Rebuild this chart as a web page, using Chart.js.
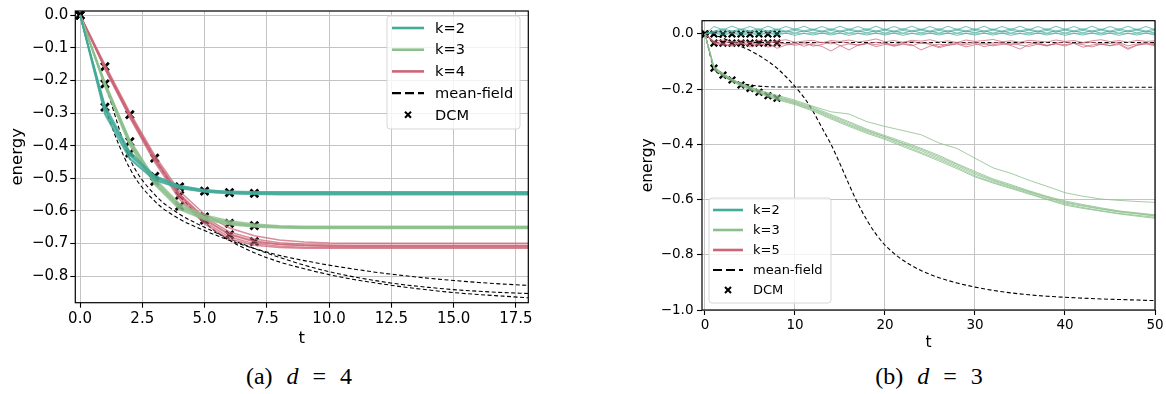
<!DOCTYPE html>
<html>
<head>
<meta charset="utf-8">
<script src="https://cdn.jsdelivr.net/npm/chart.js@4/dist/chart.umd.min.js"></script>
<style>
  html, body { margin: 0; padding: 0; background: #fff; }
  #page { position: relative; width: 1166px; height: 394px; overflow: hidden; }
  canvas { position: absolute; top: 0; }
  #chartA { left: 0; }
  #chartB { left: 620px; }
  .cap { position: absolute; top: 363px; width: 300px; text-align: center;
         font-family: 'Liberation Serif', serif; font-size: 24px; color: #000; word-spacing: 8px; }
  .cap i { font-style: italic; }
</style>
</head>
<body>
<div id="page">
  <canvas id="chartA" width="545" height="350"></canvas>
  <canvas id="chartB" width="546" height="360"></canvas>
  <div class="cap" style="left:149px">(a) <i>d</i> = 4</div>
  <div class="cap" style="left:779px">(b) <i>d</i> = 3</div>
</div>
<script>
// ---------- panel (a): d = 4 ----------
const tA = [0,1,2,3,4,5,6,7,8,9,10,11,12,13,14,15,16,17,18];
const xTicksA = [0, 2.5, 5, 7.5, 10, 12.5, 15, 17.5];
const yTicksA = [0, -0.1, -0.2, -0.3, -0.4, -0.5, -0.6, -0.7, -0.8];

// ensemble runs, one array per run
const k2RunsA = [
  [0,-0.282,-0.423,-0.494,-0.524,-0.536,-0.541,-0.543,-0.543,-0.543,-0.543,-0.543,-0.543,-0.543,-0.543,-0.543,-0.543,-0.543,-0.543],
  [0,-0.290,-0.430,-0.500,-0.527,-0.539,-0.544,-0.546,-0.546,-0.546,-0.546,-0.546,-0.546,-0.546,-0.546,-0.546,-0.546,-0.546,-0.546],
  [0,-0.298,-0.438,-0.504,-0.529,-0.541,-0.546,-0.548,-0.549,-0.549,-0.549,-0.549,-0.549,-0.549,-0.549,-0.549,-0.549,-0.549,-0.549],
  [0,-0.276,-0.418,-0.492,-0.522,-0.535,-0.540,-0.541,-0.541,-0.541,-0.541,-0.541,-0.541,-0.541,-0.541,-0.541,-0.541,-0.541,-0.541],
  [0,-0.305,-0.442,-0.506,-0.531,-0.542,-0.547,-0.549,-0.550,-0.550,-0.550,-0.550,-0.550,-0.550,-0.550,-0.550,-0.550,-0.550,-0.550],
  [0,-0.287,-0.427,-0.497,-0.526,-0.538,-0.543,-0.545,-0.545,-0.545,-0.545,-0.545,-0.545,-0.545,-0.545,-0.545,-0.545,-0.545,-0.545]
];
const k3RunsA = [
  [0,-0.205,-0.382,-0.500,-0.578,-0.612,-0.630,-0.640,-0.645,-0.647,-0.647,-0.647,-0.647,-0.647,-0.647,-0.647,-0.647,-0.647,-0.647],
  [0,-0.211,-0.388,-0.509,-0.585,-0.618,-0.636,-0.644,-0.648,-0.650,-0.650,-0.650,-0.650,-0.650,-0.650,-0.650,-0.650,-0.650,-0.650],
  [0,-0.216,-0.395,-0.516,-0.592,-0.624,-0.640,-0.647,-0.650,-0.652,-0.652,-0.652,-0.652,-0.652,-0.652,-0.652,-0.652,-0.652,-0.652],
  [0,-0.208,-0.385,-0.505,-0.582,-0.616,-0.634,-0.643,-0.647,-0.649,-0.649,-0.649,-0.649,-0.649,-0.649,-0.649,-0.649,-0.649,-0.649],
  [0,-0.220,-0.400,-0.520,-0.596,-0.627,-0.642,-0.649,-0.652,-0.654,-0.654,-0.654,-0.654,-0.654,-0.654,-0.654,-0.654,-0.654,-0.654],
  [0,-0.213,-0.391,-0.512,-0.588,-0.621,-0.638,-0.646,-0.649,-0.651,-0.651,-0.651,-0.651,-0.651,-0.651,-0.651,-0.651,-0.651,-0.651]
];
const k4RunsA = [
  [0,-0.152,-0.298,-0.430,-0.540,-0.610,-0.652,-0.676,-0.689,-0.695,-0.698,-0.699,-0.699,-0.699,-0.699,-0.699,-0.699,-0.699,-0.699],
  [0,-0.156,-0.303,-0.436,-0.548,-0.620,-0.664,-0.686,-0.697,-0.702,-0.704,-0.705,-0.705,-0.705,-0.705,-0.705,-0.705,-0.705,-0.705],
  [0,-0.160,-0.307,-0.441,-0.553,-0.628,-0.673,-0.694,-0.703,-0.706,-0.707,-0.707,-0.707,-0.707,-0.707,-0.707,-0.707,-0.707,-0.707],
  [0,-0.163,-0.311,-0.446,-0.559,-0.634,-0.680,-0.700,-0.708,-0.711,-0.712,-0.712,-0.712,-0.712,-0.712,-0.712,-0.712,-0.712,-0.712],
  [0,-0.166,-0.315,-0.451,-0.565,-0.640,-0.686,-0.705,-0.712,-0.714,-0.714,-0.714,-0.714,-0.714,-0.714,-0.714,-0.714,-0.714,-0.714],
  [0,-0.158,-0.305,-0.439,-0.551,-0.625,-0.670,-0.692,-0.702,-0.706,-0.708,-0.709,-0.709,-0.709,-0.709,-0.709,-0.709,-0.709,-0.709]
];
// mean-field curves
const mfK2A = [0,-0.280,-0.470,-0.570,-0.625,-0.660,-0.690,-0.715,-0.736,-0.752,-0.766,-0.778,-0.789,-0.798,-0.806,-0.813,-0.819,-0.824,-0.828];
const mfK3A = [0,-0.210,-0.440,-0.550,-0.610,-0.650,-0.685,-0.715,-0.742,-0.766,-0.786,-0.802,-0.815,-0.826,-0.834,-0.841,-0.846,-0.850,-0.853];
const mfK4A = [0,-0.158,-0.305,-0.440,-0.550,-0.635,-0.690,-0.728,-0.756,-0.777,-0.795,-0.810,-0.822,-0.833,-0.842,-0.850,-0.856,-0.861,-0.866];
// DCM points
const dcmTA = [0,1,2,3,4,5,6,7];
const dcmK2A = [0,-0.282,-0.423,-0.494,-0.526,-0.539,-0.544,-0.546];
const dcmK3A = [0,-0.211,-0.388,-0.509,-0.585,-0.618,-0.638,-0.645];
const dcmK4A = [0,-0.158,-0.305,-0.438,-0.552,-0.628,-0.673,-0.694];

// ---------- panel (b): d = 3 ----------
const tB = [0,1,2,3,4,5,6,7,8,9,10,11,12,13,14,15,16,17,18,19,20,21,22,23,24,25,26,27,28,29,30,
            31,32,33,34,35,36,37,38,39,40,41,42,43,44,45,46,47,48,49,50];
const xTicksB = [0, 10, 20, 30, 40, 50];
const yTicksB = [0, -0.2, -0.4, -0.6, -0.8, -1.0];

const k2RunsB = [
  [0,
   0.027,0.015,0.028,0.016,0.027,0.015,0.028,0.015,0.027,0.016,
   0.028,0.015,0.027,0.015,0.028,0.016,0.027,0.015,0.028,0.015,
   0.027,0.016,0.028,0.015,0.027,0.015,0.028,0.016,0.027,0.015,
   0.028,0.015,0.027,0.016,0.028,0.015,0.027,0.015,0.028,0.016,
   0.027,0.015,0.028,0.015,0.027,0.016,0.028,0.015,0.027,0.015],
  [0,
   0.010,0.019,0.010,0.018,0.011,0.019,0.010,0.018,0.010,0.019,
   0.011,0.018,0.010,0.019,0.010,0.018,0.011,0.019,0.010,0.018,
   0.010,0.019,0.011,0.018,0.010,0.019,0.010,0.018,0.011,0.019,
   0.010,0.018,0.010,0.019,0.011,0.018,0.010,0.019,0.010,0.018,
   0.011,0.019,0.010,0.018,0.010,0.019,0.011,0.018,0.010,0.019],
  [0,
   0.010,0.003,0.011,0.003,0.010,0.004,0.011,0.003,0.010,0.003,
   0.011,0.004,0.010,0.003,0.011,0.003,0.010,0.004,0.011,0.003,
   0.010,0.003,0.011,0.004,0.010,0.003,0.011,0.003,0.010,0.004,
   0.011,0.003,0.010,0.003,0.011,0.004,0.010,0.003,0.011,0.003,
   0.010,0.004,0.011,0.003,0.010,0.003,0.011,0.004,0.010,0.003],
  [0,
   0.006,0.013,0.006,0.014,0.007,0.013,0.006,0.014,0.006,0.013,
   0.007,0.014,0.006,0.013,0.006,0.014,0.007,0.013,0.006,0.014,
   0.006,0.013,0.007,0.014,0.006,0.013,0.006,0.014,0.007,0.013,
   0.006,0.014,0.006,0.013,0.007,0.014,0.006,0.013,0.006,0.014,
   0.007,0.013,0.006,0.014,0.006,0.013,0.007,0.014,0.006,0.013],
  [0,
   0.003,-0.004,0.003,-0.005,0.002,-0.004,0.003,-0.004,0.003,-0.005,
   0.002,-0.004,0.003,-0.004,0.003,-0.005,0.002,-0.004,0.003,-0.004,
   0.003,-0.005,0.002,-0.004,0.003,-0.004,0.003,-0.005,0.002,-0.004,
   0.003,-0.004,0.003,-0.005,0.002,-0.004,0.003,-0.004,0.003,-0.005,
   0.002,-0.004,0.003,-0.004,0.003,-0.005,0.002,-0.004,0.003,-0.004]
];
const k5RunsB = [
  [0,
   -0.030,-0.034,-0.028,-0.036,-0.031,-0.040,-0.033,-0.029,-0.037,-0.032,
   -0.045,-0.034,-0.030,-0.036,-0.028,-0.033,-0.041,-0.035,-0.030,-0.034,
   -0.038,-0.031,-0.027,-0.035,-0.033,-0.046,-0.036,-0.031,-0.034,-0.029,
   -0.037,-0.033,-0.030,-0.039,-0.034,-0.031,-0.036,-0.044,-0.032,-0.029,
   -0.035,-0.033,-0.030,-0.037,-0.034,-0.031,-0.043,-0.036,-0.032,-0.035],
  [0,
   -0.035,-0.041,-0.038,-0.030,-0.047,-0.039,-0.033,-0.052,-0.040,-0.036,
   -0.031,-0.044,-0.038,-0.029,-0.042,-0.058,-0.041,-0.034,-0.039,-0.032,
   -0.045,-0.037,-0.043,-0.031,-0.038,-0.050,-0.041,-0.035,-0.040,-0.033,
   -0.046,-0.039,-0.034,-0.042,-0.055,-0.038,-0.032,-0.041,-0.036,-0.044,
   -0.033,-0.039,-0.047,-0.037,-0.042,-0.034,-0.052,-0.040,-0.036,-0.043],
  [0,
   -0.027,-0.022,-0.029,-0.024,-0.031,-0.023,-0.028,-0.025,-0.021,-0.030,
   -0.026,-0.023,-0.032,-0.024,-0.027,-0.022,-0.029,-0.025,-0.018,-0.028,
   -0.024,-0.030,-0.023,-0.026,-0.021,-0.029,-0.025,-0.031,-0.022,-0.027,
   -0.024,-0.020,-0.028,-0.025,-0.030,-0.023,-0.026,-0.029,-0.022,-0.027,
   -0.024,-0.031,-0.025,-0.021,-0.028,-0.024,-0.030,-0.023,-0.027,-0.025],
  [0,
   -0.032,-0.037,-0.044,-0.035,-0.040,-0.033,-0.048,-0.038,-0.034,-0.041,
   -0.036,-0.039,-0.045,-0.062,-0.043,-0.036,-0.040,-0.034,-0.046,-0.038,
   -0.042,-0.035,-0.039,-0.058,-0.044,-0.037,-0.041,-0.036,-0.047,-0.039,
   -0.035,-0.043,-0.038,-0.033,-0.040,-0.045,-0.037,-0.042,-0.035,-0.039,
   -0.034,-0.048,-0.040,-0.036,-0.043,-0.038,-0.056,-0.041,-0.035,-0.039]
];
const tGreenB = [0,1,2,3,4,5,6,7,8,10,12,14,16,18,20,22,24,26,28,30,32,34,36,38,40,42,44,46,48,50];
const k3RunsB = [
  [0,-0.123,-0.148,-0.167,-0.184,-0.197,-0.210,-0.222,-0.232,-0.250,-0.272,-0.300,-0.327,-0.352,-0.373,-0.398,-0.423,-0.450,-0.478,-0.508,-0.532,-0.553,-0.573,-0.593,-0.612,-0.624,-0.635,-0.645,-0.652,-0.660],
  [0,-0.118,-0.143,-0.163,-0.180,-0.193,-0.205,-0.216,-0.226,-0.244,-0.265,-0.292,-0.318,-0.345,-0.368,-0.390,-0.414,-0.440,-0.470,-0.498,-0.525,-0.546,-0.568,-0.588,-0.605,-0.618,-0.630,-0.641,-0.648,-0.655],
  [0,-0.128,-0.153,-0.172,-0.189,-0.202,-0.215,-0.227,-0.238,-0.256,-0.279,-0.308,-0.335,-0.360,-0.382,-0.408,-0.433,-0.460,-0.488,-0.518,-0.540,-0.560,-0.580,-0.600,-0.620,-0.632,-0.642,-0.652,-0.660,-0.668],
  [0,-0.120,-0.145,-0.164,-0.180,-0.192,-0.203,-0.213,-0.222,-0.240,-0.262,-0.282,-0.290,-0.318,-0.335,-0.350,-0.365,-0.395,-0.415,-0.450,-0.485,-0.505,-0.530,-0.552,-0.575,-0.588,-0.598,-0.603,-0.607,-0.610],
  [0,-0.125,-0.150,-0.169,-0.186,-0.199,-0.212,-0.224,-0.235,-0.253,-0.276,-0.304,-0.331,-0.356,-0.378,-0.403,-0.429,-0.455,-0.483,-0.514,-0.537,-0.557,-0.577,-0.598,-0.616,-0.629,-0.640,-0.650,-0.657,-0.664],
  [0,-0.122,-0.146,-0.165,-0.182,-0.195,-0.207,-0.219,-0.229,-0.247,-0.270,-0.296,-0.322,-0.349,-0.372,-0.395,-0.418,-0.445,-0.473,-0.503,-0.529,-0.550,-0.571,-0.591,-0.609,-0.621,-0.633,-0.643,-0.650,-0.658]
];
// mean-field
const tMfK2B = [0,1,2,3,4,5,6,7,8,9,10,11,12,13,14,15,16,17,18,19,20,21,22,23,24,25,26,27,28,30,32,34,36,38,40,42,44,46,48,50];
const mfK2B = [0,-0.005,-0.015,-0.030,-0.045,-0.060,-0.078,-0.099,-0.124,-0.155,-0.190,-0.230,-0.280,-0.340,-0.400,-0.470,-0.545,-0.615,-0.675,-0.725,
               -0.765,-0.795,-0.820,-0.840,-0.857,-0.871,-0.883,-0.893,-0.902,-0.917,-0.929,-0.938,-0.945,-0.950,-0.954,-0.957,-0.960,-0.962,-0.964,-0.966];
const tMfK3B = [0,1,2,3,4,5,6,7,8,50];
const mfK3B = [0,-0.123,-0.150,-0.168,-0.179,-0.185,-0.189,-0.191,-0.192,-0.193];
const tMfK5B = [0,1,50];
const mfK5B = [0,-0.031,-0.031];
// DCM
const dcmTB = [0,1,2,3,4,5,6,7,8];
const dcmK2B = [0,0,0,0,0,0,0,0,0];
const dcmK3B = [0,-0.124,-0.149,-0.167,-0.185,-0.197,-0.211,-0.224,-0.233];
const dcmK5B = [0,-0.033,-0.033,-0.033,-0.033,-0.033,-0.033,-0.033,-0.033];

const TEAL = '#44AA99', GREEN = '#8CBF8C', ROSE = '#CC6677';

function pts(xs, ys) {
    return ys.map((y, i) => ({ x: xs[i], y: y }));
}
function runLines(xs, runs, color, width) {
    return runs.map(r => ({
        data: pts(xs, r), borderColor: color, borderWidth: width,
        pointRadius: 0, fill: false, tension: 0
    }));
}
function mfLine(xs, ys, width, smooth) {
    return {
        data: pts(xs, ys), borderColor: '#000', borderWidth: width, borderDash: [4, 2.5],
        pointRadius: 0, fill: false, cubicInterpolationMode: smooth ? 'monotone' : 'default', tension: 0
    };
}
function dcmMarks(xs, ys, r, w) {
    return {
        data: pts(xs, ys), showLine: false, pointStyle: 'crossRot', pointRadius: r,
        borderColor: '#000', backgroundColor: '#000', pointBorderWidth: w
    };
}
function fmt(v) {
    const s = Math.abs(v) < 1e-9 ? '0.0' : Math.abs(v).toFixed(1);
    return v < -1e-9 ? '\u2212' + s : s;
}

// frame + legend drawn on top of the datasets
const decor = {
    id: 'decor',
    afterDatasetsDraw(chart, args, opts) {
        const ctx = chart.ctx, a = chart.chartArea;
        ctx.save();
        ctx.strokeStyle = '#000';
        ctx.lineWidth = 1.2;
        ctx.strokeRect(a.left, a.top, a.right - a.left, a.bottom - a.top);
        const L = opts.legend;
        ctx.beginPath();
        ctx.roundRect(L.x, L.y, L.w, L.h, 3);
        ctx.fillStyle = 'rgba(255,255,255,0.8)';
        ctx.fill();
        ctx.strokeStyle = '#d6d6d6';
        ctx.lineWidth = 1;
        ctx.stroke();
        ctx.font = L.font + 'px "DejaVu Sans"';
        ctx.textBaseline = 'middle';
        ctx.fillStyle = '#000';
        L.items.forEach((it, i) => {
            const y = L.y + L.first + i * L.row;
            const x0 = L.x + L.sw0, x1 = L.x + L.sw1;
            if (it.kind === 'line' || it.kind === 'dash') {
                ctx.beginPath();
                ctx.setLineDash(it.kind === 'dash' ? [9, 4] : []);
                ctx.strokeStyle = it.color;
                ctx.lineWidth = it.kind === 'dash' ? 2.2 : 2.6;
                ctx.moveTo(x0, y);
                ctx.lineTo(x1, y);
                ctx.stroke();
                ctx.setLineDash([]);
            } else {
                const cx = (x0 + x1) / 2, s = 3;
                ctx.beginPath();
                ctx.strokeStyle = '#000';
                ctx.lineWidth = 2;
                ctx.moveTo(cx - s, y - s); ctx.lineTo(cx + s, y + s);
                ctx.moveTo(cx - s, y + s); ctx.lineTo(cx + s, y - s);
                ctx.stroke();
            }
            ctx.fillText(it.label, L.x + L.tx, y + 1);
        });
        ctx.restore();
    }
};

function axisCfg(o) {
    return {
        type: 'linear', min: o.min, max: o.max,
        afterBuildTicks: s => { s.ticks = o.ticks.map(v => ({ value: v })); },
        afterFit: s => { if (o.horiz) s.height = o.size; else s.width = o.size; },
        grid: { color: '#c4c4c4', lineWidth: 1, tickColor: '#000', tickLength: 5, tickWidth: 1.1 },
        border: { display: false },
        ticks: {
            color: '#000', padding: o.pad, maxRotation: 0, autoSkip: false,
            font: { family: 'DejaVu Sans', size: o.font },
            callback: o.cb
        },
        title: {
            display: true, text: o.title, color: '#000', padding: 0,
            font: { family: 'DejaVu Sans', size: o.titleFont }
        }
    };
}

const datasetsA = [].concat(
    runLines(tA, k2RunsA, 'rgba(68,170,153,0.8)', 1.5),
    runLines(tA, k3RunsA, 'rgba(140,191,140,0.8)', 1.5),
    runLines(tA, k4RunsA, 'rgba(204,102,119,0.75)', 1.5),
    [mfLine(tA, mfK2A, 1.1, true), mfLine(tA, mfK3A, 1.1, true), mfLine(tA, mfK4A, 1.1, true)],
    [dcmMarks(dcmTA, dcmK2A, 5.5, 2.8), dcmMarks(dcmTA, dcmK3A, 5.5, 2.8), dcmMarks(dcmTA, dcmK4A, 5.5, 2.8)]
);

new Chart(document.getElementById('chartA'), {
    type: 'line',
    data: { datasets: datasetsA },
    options: {
        responsive: false, animation: false, devicePixelRatio: 1, events: [],
        layout: { padding: { left: 7.4, right: 16.7, top: 8, bottom: 1.3 } },
        plugins: {
            legend: { display: false }, tooltip: { enabled: false },
            decor: { legend: {
                x: 387, y: 16, w: 133, h: 113, first: 12, row: 21.7, sw0: 5, sw1: 37, tx: 48, font: 14.6,
                items: [
                    { label: 'k=2', kind: 'line', color: TEAL },
                    { label: 'k=3', kind: 'line', color: GREEN },
                    { label: 'k=4', kind: 'line', color: ROSE },
                    { label: 'mean-field', kind: 'dash', color: '#000' },
                    { label: 'DCM', kind: 'cross' }
                ]
            } }
        },
        scales: {
            x: axisCfg({ horiz: true, size: 46, min: -0.19, max: 18, ticks: xTicksA, pad: 2, font: 15,
                         cb: v => v.toFixed(1), title: 't', titleFont: 16.5 }),
            y: axisCfg({ horiz: false, size: 67.9, min: -0.881, max: 0.0125, ticks: yTicksA, pad: 2, font: 15,
                         cb: v => fmt(v), title: 'energy', titleFont: 16.5 })
        }
    },
    plugins: [decor]
});

const datasetsB = [].concat(
    runLines(tB, k2RunsB, 'rgba(68,170,153,0.75)', 1),
    runLines(tGreenB, k3RunsB, 'rgba(140,191,140,0.8)', 1),
    runLines(tB, k5RunsB, 'rgba(204,102,119,0.75)', 1),
    [mfLine(tMfK2B, mfK2B, 1.1, true), mfLine(tMfK3B, mfK3B, 1.1, true), mfLine(tMfK5B, mfK5B, 1.1, false)],
    [dcmMarks(dcmTB, dcmK2B, 4.6, 2.3), dcmMarks(dcmTB, dcmK3B, 4.6, 2.3), dcmMarks(dcmTB, dcmK5B, 4.6, 2.3)]
);

new Chart(document.getElementById('chartB'), {
    type: 'line',
    data: { datasets: datasetsB },
    options: {
        responsive: false, animation: false, devicePixelRatio: 1, events: [],
        layout: { padding: { left: 18.4, right: 11, top: 20.7, bottom: 7.4 } },
        plugins: {
            legend: { display: false }, tooltip: { enabled: false },
            decor: { legend: {
                x: 89, y: 198, w: 122, h: 105, first: 12, row: 20, sw0: 4, sw1: 34, tx: 44, font: 13,
                items: [
                    { label: 'k=2', kind: 'line', color: TEAL },
                    { label: 'k=3', kind: 'line', color: GREEN },
                    { label: 'k=5', kind: 'line', color: ROSE },
                    { label: 'mean-field', kind: 'dash', color: '#000' },
                    { label: 'DCM', kind: 'cross' }
                ]
            } }
        },
        scales: {
            x: axisCfg({ horiz: true, size: 42.6, min: -0.33, max: 50, ticks: xTicksB, pad: 2, font: 13.5,
                         cb: v => String(v), title: 't', titleFont: 15.5 }),
            y: axisCfg({ horiz: false, size: 63.6, min: -1.0, max: 0.048, ticks: yTicksB, pad: 3.5, font: 13.5,
                         cb: v => fmt(v), title: 'energy', titleFont: 15.5 })
        }
    },
    plugins: [decor]
});
</script>
</body>
</html>
